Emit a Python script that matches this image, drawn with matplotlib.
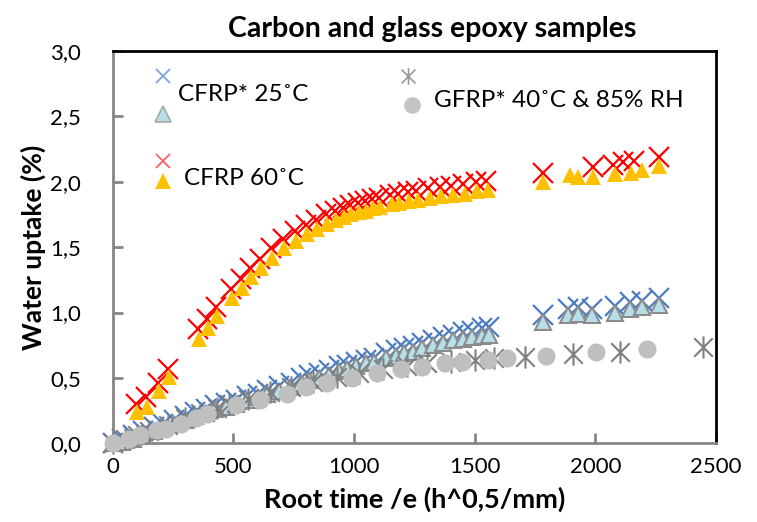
import matplotlib
matplotlib.use("Agg")
import matplotlib.pyplot as plt
from matplotlib.path import Path
from matplotlib.ticker import FuncFormatter

plt.rcParams['font.family'] = ['Lato', 'DejaVu Sans']

# CFRP* at 25 C
t25 = [0, 40, 85, 125, 170, 210, 255, 300, 340, 385, 425, 470, 510, 555, 600, 640,
       689, 739, 781, 814, 855, 897, 939, 972, 1009, 1051, 1084, 1134, 1175, 1208,
       1242, 1283, 1325, 1370, 1410, 1450, 1490, 1530, 1560,
       1782, 1885, 1927, 1985, 2081, 2143, 2193, 2263]
w25_x = [0.00, 0.03, 0.06, 0.09, 0.12, 0.15, 0.18, 0.21, 0.24, 0.26, 0.29, 0.31, 0.33,
         0.36, 0.38, 0.41, 0.44, 0.46, 0.50, 0.52, 0.54, 0.56, 0.59, 0.60, 0.62, 0.64,
         0.65, 0.69, 0.71, 0.73, 0.74, 0.77, 0.79, 0.81, 0.83, 0.85, 0.86, 0.88, 0.89,
         0.98, 1.03, 1.04, 1.03, 1.05, 1.08, 1.09, 1.11]
w25_tri = [0.00, 0.01, 0.03, 0.06, 0.09, 0.12, 0.15, 0.18, 0.21, 0.23, 0.26, 0.28, 0.30,
           0.33, 0.35, 0.38, 0.40, 0.43, 0.46, 0.48, 0.50, 0.52, 0.55, 0.57, 0.59, 0.61,
           0.62, 0.65, 0.67, 0.69, 0.70, 0.73, 0.75, 0.77, 0.79, 0.80, 0.81, 0.82, 0.83,
           0.93, 0.98, 0.99, 0.98, 1.00, 1.03, 1.04, 1.06]

# CFRP at 60 C
t60 = [100, 141, 191, 233, 357, 395, 432, 494, 536, 573, 615, 660, 710, 760, 805, 847,
       888, 925, 958, 988, 1021, 1050, 1080, 1109, 1155, 1188, 1229, 1263, 1313, 1362,
       1408, 1458, 1508, 1553,
       1782, 1894, 1927, 1989, 2081, 2147, 2193, 2263]
w60_tri = [0.24, 0.28, 0.40, 0.51, 0.80, 0.88, 0.97, 1.11, 1.19, 1.27, 1.34, 1.42, 1.49,
           1.55, 1.60, 1.64, 1.68, 1.71, 1.73, 1.75, 1.77, 1.78, 1.80, 1.81, 1.83, 1.84,
           1.85, 1.86, 1.88, 1.89, 1.90, 1.91, 1.93, 1.94,
           2.00, 2.05, 2.04, 2.04, 2.06, 2.07, 2.09, 2.12]
t60_x = [95, 136, 186, 228, 352, 390, 427, 489, 531, 568, 610, 655, 705, 755, 800, 842,
         883, 920, 953, 983, 1016, 1045, 1075, 1104, 1150, 1183, 1224, 1258, 1308, 1357,
         1403, 1453, 1503, 1548,
         1782, 1989, 2072, 2115, 2160, 2263]
w60_x = [0.30, 0.35, 0.46, 0.57, 0.87, 0.95, 1.04, 1.18, 1.26, 1.34, 1.41, 1.49, 1.56,
         1.62, 1.67, 1.71, 1.75, 1.78, 1.80, 1.82, 1.84, 1.85, 1.87, 1.88, 1.90, 1.91,
         1.92, 1.93, 1.95, 1.96, 1.97, 1.98, 2.00, 2.01,
         2.07, 2.11, 2.13, 2.15, 2.16, 2.19]

# GFRP* at 40 C & 85% RH
tg_star = [0, 50, 100, 150, 230, 300, 360, 430, 480, 560, 650, 740, 830, 930, 1020,
           1120, 1220, 1300, 1400, 1500, 1580, 1707, 1906, 2101, 2446]
wg_star = [0.00, 0.03, 0.06, 0.09, 0.14, 0.19, 0.23, 0.27, 0.30, 0.34, 0.39, 0.43, 0.47,
           0.51, 0.54, 0.57, 0.59, 0.61, 0.62, 0.64, 0.65, 0.66, 0.68, 0.70, 0.735]
tg_dot = [0, 66, 112, 183, 220, 282, 345, 390, 510, 610, 722, 801, 889, 993, 1096,
          1196, 1283, 1375, 1449, 1553, 1632, 1794, 2002, 2213]
wg_dot = [0.00, 0.03, 0.06, 0.10, 0.11, 0.15, 0.19, 0.22, 0.29, 0.33, 0.38, 0.43, 0.46,
          0.50, 0.54, 0.57, 0.58, 0.61, 0.62, 0.64, 0.65, 0.67, 0.70, 0.72]

blue = '#4a7cc4'
lightblue = '#b7dfe9'
red = '#ff0000'
gold = '#ffc000'
grey_star = '#7f7f7f'
grey_dot = '#bfbfbf'

# spreadsheet-style star: an x crossed by a vertical bar
star = Path([(-1, -1), (1, 1), (-1, 1), (1, -1), (0, -1.2), (0, 1.2)],
            [Path.MOVETO, Path.LINETO, Path.MOVETO, Path.LINETO, Path.MOVETO, Path.LINETO])

fig = plt.figure(figsize=(7.57, 5.22), dpi=100)
ax = fig.add_axes([0.149, 0.151, 0.797, 0.751])

kw = dict(linestyle='none', clip_on=False)
ax.plot(t25, w25_x, marker='x', ms=14, mew=1.6, color=blue, zorder=2, **kw)
ax.plot(t25, w25_tri, marker='^', ms=12, mew=1.5, mfc=lightblue, mec='#8c8c8c', zorder=3, **kw)
ax.plot(tg_star, wg_star, marker=star, ms=16, mew=1.5, color=grey_star, zorder=4, **kw)
ax.plot(tg_dot, wg_dot, marker='o', ms=13, mew=0, color=grey_dot, zorder=5, **kw)
ax.plot(t60_x, w60_x, marker='x', ms=14, mew=1.6, color=red, zorder=6, **kw)
ax.plot(t60, w60_tri, marker='^', ms=12, mew=0, color=gold, zorder=7, **kw)

ax.set_xlim(0, 2500)
ax.set_ylim(0, 3)
ax.set_xticks(range(0, 2501, 500))
ax.set_yticks([0, 0.5, 1, 1.5, 2, 2.5, 3])
ax.yaxis.set_major_formatter(FuncFormatter(lambda v, p: f'{v:.1f}'.replace('.', ',')))
ax.tick_params(direction='in', length=7, width=2, color='#868686', labelsize=16)
ax.tick_params(axis='y', pad=23)
ax.tick_params(axis='x', pad=10)

for s in ['left', 'bottom']:
    ax.spines[s].set_color('#868686')
    ax.spines[s].set_linewidth(2)
for s in ['top', 'right']:
    ax.spines[s].set_color('black')
    ax.spines[s].set_linewidth(2)

ax.set_title('Carbon and glass epoxy samples', fontsize=20.5, fontweight='bold', pad=10, x=0.529)
ax.set_xlabel('Root time /e (h^0,5/mm)', fontsize=19.5, fontweight='bold', labelpad=7)
ax.set_ylabel('Water uptake (%)', fontsize=19, fontweight='bold', labelpad=3)

# hand-placed key
lk = dict(linestyle='none', transform=ax.transAxes, clip_on=False, zorder=8)
ax.plot([0.083], [0.937], marker='x', ms=10, mew=1.3, color='#7fa3d8', **lk)
ax.plot([0.083], [0.840], marker='^', ms=11, mew=1.2, mfc=lightblue, mec='#a8a8a8', **lk)
ax.plot([0.083], [0.720], marker='x', ms=10, mew=1.3, color='#ff6060', **lk)
ax.plot([0.083], [0.668], marker='^', ms=11, mew=0, color=gold, **lk)
ax.plot([0.490], [0.937], marker=star, ms=12, mew=1.2, color='#999999', **lk)
ax.plot([0.496], [0.862], marker='o', ms=12, mew=0, color='#c4c4c4', **lk)
ax.text(0.108, 0.890, 'CFRP* 25˚C', transform=ax.transAxes, fontsize=17.5, va='center')
ax.text(0.118, 0.675, 'CFRP 60˚C', transform=ax.transAxes, fontsize=17.5, va='center')
ax.text(0.533, 0.873, 'GFRP* 40˚C & 85% RH', transform=ax.transAxes, fontsize=17.5, va='center')

fig.savefig('out.png', dpi=100)
